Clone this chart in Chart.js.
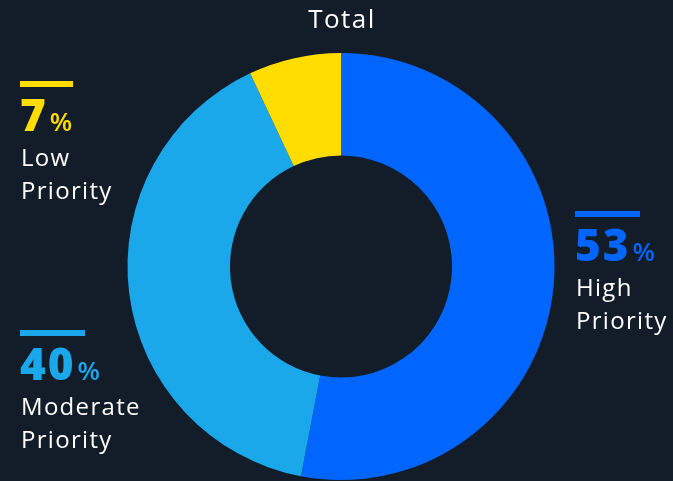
<!DOCTYPE html>
<html>
<head>
<meta charset="utf-8">
<script src="https://cdn.jsdelivr.net/npm/chart.js@4"></script>
<style>
    html, body { margin: 0; padding: 0; background: #121d29; }
    #wrap { width: 673px; height: 481px; }
</style>
</head>
<body>
<div id="wrap"><canvas id="totalChart" width="673" height="481"></canvas></div>
<script>
// データ
const categories = ['High Priority', 'Moderate Priority', 'Low Priority'];
const shares = [53, 40, 7];
const sliceColors = ['#0066ff', '#1ba8eb', '#ffdd00'];
const chartTitle = 'Total';

const FONT = "'Open Sans', sans-serif";

// 凡例ラベルの配置（カテゴリ順）
const labelSpots = [
    { x: 575, y: 211, bar: 65 },
    { x: 20, y: 330, bar: 65 },
    { x: 20, y: 81, bar: 53 }
];

// タイトルとパーセント表示を描く
const sideLabels = {
    id: 'sideLabels',
    afterDraw(chart) {
        const ctx = chart.ctx;
        const ds = chart.data.datasets[0];
        ctx.save();
        ctx.textBaseline = 'alphabetic';
        ctx.textAlign = 'center';
        ctx.fillStyle = '#ffffff';
        ctx.letterSpacing = '1.5px';
        ctx.font = `26px ${FONT}`;
        ctx.fillText(chartTitle, 342, 28);

        ctx.textAlign = 'left';
        chart.data.labels.forEach((label, i) => {
            const spot = labelSpots[i];
            const color = ds.backgroundColor[i];
            ctx.fillStyle = color;
            ctx.fillRect(spot.x, spot.y, spot.bar, 6);

            const num = String(ds.data[i]);
            ctx.letterSpacing = '2px';
            ctx.font = `800 44px ${FONT}`;
            ctx.fillText(num, spot.x, spot.y + 50);
            const w = ctx.measureText(num).width;
            ctx.letterSpacing = '0px';
            ctx.font = `600 26px ${FONT}`;
            ctx.fillText('%', spot.x + w + 2, spot.y + 50);

            ctx.fillStyle = '#ffffff';
            ctx.letterSpacing = '1.3px';
            ctx.font = `24px ${FONT}`;
            const words = label.split(' ');
            ctx.fillText(words[0], spot.x + 1, spot.y + 85);
            ctx.fillText(words[1], spot.x + 1, spot.y + 118);
        });
        ctx.restore();
    }
};

new Chart(document.getElementById('totalChart'), {
    type: 'doughnut',
    data: {
        labels: categories,
        datasets: [{
            data: shares,
            backgroundColor: sliceColors,
            borderWidth: 0
        }]
    },
    options: {
        responsive: false,
        animation: false,
        cutout: '52%',
        layout: { padding: { top: 53, bottom: 1, left: 9, right: 0 } },
        plugins: {
            legend: { display: false },
            title: { display: false },
            tooltip: { enabled: false }
        }
    },
    plugins: [sideLabels]
});
</script>
</body>
</html>
